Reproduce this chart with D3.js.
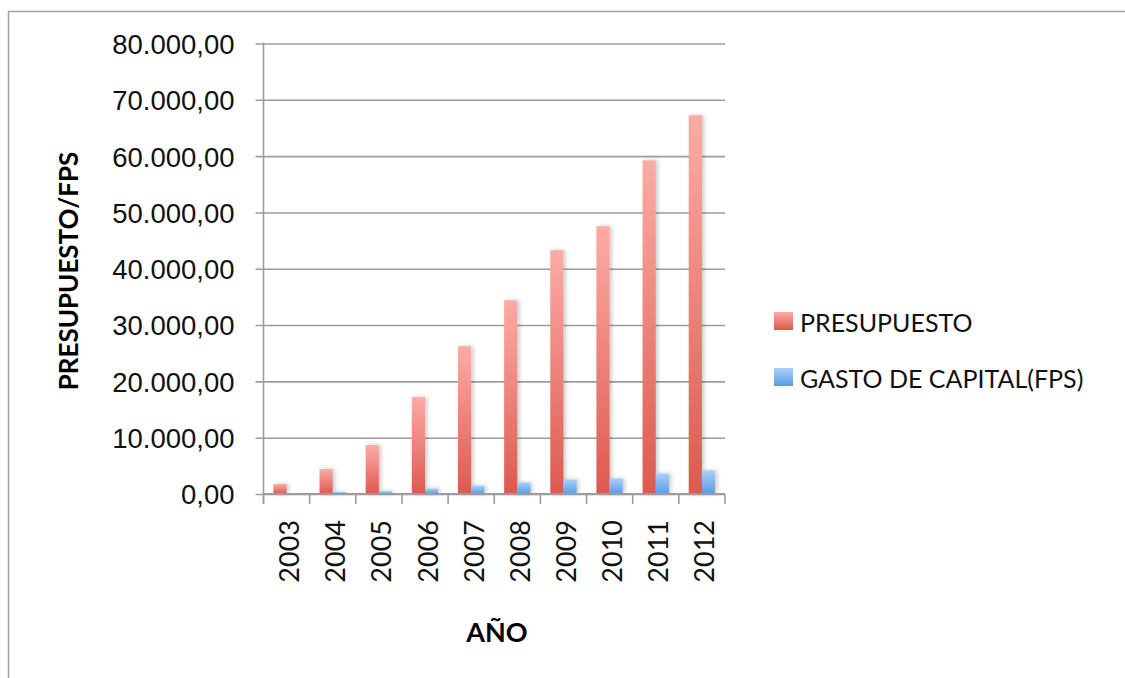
<!DOCTYPE html>
<html>
<head>
<meta charset="utf-8">
<script src="https://cdn.jsdelivr.net/npm/d3@7"></script>
<style>
  html, body { margin: 0; padding: 0; background: #fff; }
  svg { display: block; font-family: Lato, "Open Sans", sans-serif; }
</style>
</head>
<body>
<svg id="chart" width="1125" height="678"></svg>
<script>
// Annual budget vs. capital expenditure (FPS), 2003–2012
const years = ["2003", "2004", "2005", "2006", "2007", "2008", "2009", "2010", "2011", "2012"];
const presupuesto = [1770, 4430, 8700, 17200, 26250, 34400, 43300, 47550, 59250, 67250];
const gastoCapital = [0, 350, 500, 980, 1500, 2050, 2580, 2750, 3650, 4180];
const seriesNames = ["PRESUPUESTO", "GASTO DE CAPITAL(FPS)"];
const yTicks = [0, 10000, 20000, 30000, 40000, 50000, 60000, 70000, 80000];

const svg = d3.select("#chart");
const W = 1125, H = 678;
const plot = { left: 263.5, right: 725, top: 43.5, bottom: 494 };

// Outer chart frame
svg.append("rect")
  .attr("x", 8.5).attr("y", 11.5)
  .attr("width", W).attr("height", H)
  .attr("fill", "#fff").attr("stroke", "#a0a0a0").attr("stroke-width", 1.5);

const defs = svg.append("defs");
function grad(id, top, bottom) {
  const g = defs.append("linearGradient").attr("id", id)
    .attr("x1", 0).attr("y1", 0).attr("x2", 0).attr("y2", 1);
  g.append("stop").attr("offset", "0%").attr("stop-color", top);
  g.append("stop").attr("offset", "100%").attr("stop-color", bottom);
}
grad("gRed", "#fcaba6", "#dc5a4e");
grad("gBlue", "#aacffc", "#5a9be0");
const shadow = defs.append("filter").attr("id", "shadow")
  .attr("x", "-50%").attr("y", "-10%").attr("width", "200%").attr("height", "120%");
shadow.append("feDropShadow").attr("dx", 2).attr("dy", 0).attr("stdDeviation", 2.2)
  .attr("flood-color", "#000").attr("flood-opacity", 0.22);

const x = d3.scaleBand().domain(years).range([plot.left, plot.right]).paddingInner(0).paddingOuter(0);
const y = d3.scaleLinear().domain([0, 80000]).range([plot.bottom, plot.top]);

// Gridlines with outward ticks
const fmt = v => {
  const s = d3.format(",.2f")(v);
  return s.replace(/,/g, "#").replace(/\./g, ",").replace(/#/g, ".");
};
const yAxis = d3.axisLeft(y).tickValues(yTicks).tickFormat(fmt).tickSize(-(plot.right - plot.left)).tickPadding(29);
const gy = svg.append("g").attr("transform", `translate(${plot.left},0)`).call(yAxis);
gy.select(".domain").remove();
gy.selectAll(".tick line").attr("x1", -8).attr("stroke", "#9c9c9c").attr("stroke-width", 1.6);
gy.selectAll(".tick text").attr("font-size", 27.5).attr("fill", "#111").attr("dy", "0.36em");

// Bars
const bw = x.bandwidth() / 3.5;
const off = bw * 0.75;
const series = [
  { vals: presupuesto, fill: "url(#gRed)", shift: 0 },
  { vals: gastoCapital, fill: "url(#gBlue)", shift: 1 }
];
series.forEach(s => {
  svg.append("g").attr("filter", "url(#shadow)")
    .selectAll("rect").data(years).join("rect")
    .attr("x", (d) => x(d) + off + s.shift * bw)
    .attr("y", (d, i) => y(s.vals[i]))
    .attr("width", bw)
    .attr("height", (d, i) => y(0) - y(s.vals[i]))
    .attr("fill", s.fill);
});

// Value axis line and category axis
svg.append("line").attr("x1", plot.left).attr("x2", plot.left)
  .attr("y1", plot.top - 1).attr("y2", plot.bottom + 10)
  .attr("stroke", "#9c9c9c").attr("stroke-width", 1.6);

const xAxis = d3.axisBottom(x).tickSize(10).tickFormat("");
const gx = svg.append("g").attr("transform", `translate(0,${plot.bottom})`).call(xAxis);
gx.select(".domain").attr("stroke", "#9c9c9c").attr("stroke-width", 2).attr("d", `M${plot.left},0H${plot.right}`);
gx.selectAll(".tick").remove();
const edges = years.map(d => x(d)).concat([plot.right]);
gx.selectAll("line.edge").data(edges).join("line").attr("class", "edge")
  .attr("x1", d => d).attr("x2", d => d).attr("y1", 0).attr("y2", 10)
  .attr("stroke", "#9c9c9c").attr("stroke-width", 1.6);

svg.append("g").selectAll("text").data(years).join("text")
  .attr("transform", d => `translate(${x(d) + x.bandwidth() / 2 + 12.5},520) rotate(-90)`)
  .attr("text-anchor", "end")
  .attr("font-size", 27).attr("fill", "#111")
  .text(d => d);

// Axis titles
svg.append("text")
  .attr("transform", "translate(78,271) rotate(-90)")
  .attr("text-anchor", "middle").attr("font-size", 26).attr("font-weight", "bold").attr("fill", "#000")
  .text("PRESUPUESTO/FPS");
svg.append("text")
  .attr("x", 497).attr("y", 642)
  .attr("text-anchor", "middle").attr("font-size", 27).attr("font-weight", "bold").attr("fill", "#000")
  .text("AÑO");

// Legend
const legend = svg.append("g");
const fills = ["url(#gRed)", "url(#gBlue)"];
seriesNames.forEach((name, i) => {
  const yy = 312 + i * 56;
  legend.append("rect").attr("x", 774).attr("y", yy).attr("width", 19).attr("height", 18).attr("fill", fills[i]);
  legend.append("text").attr("x", 800).attr("y", yy + 20).attr("font-size", 25).attr("fill", "#111").text(name);
});
</script>
</body>
</html>
